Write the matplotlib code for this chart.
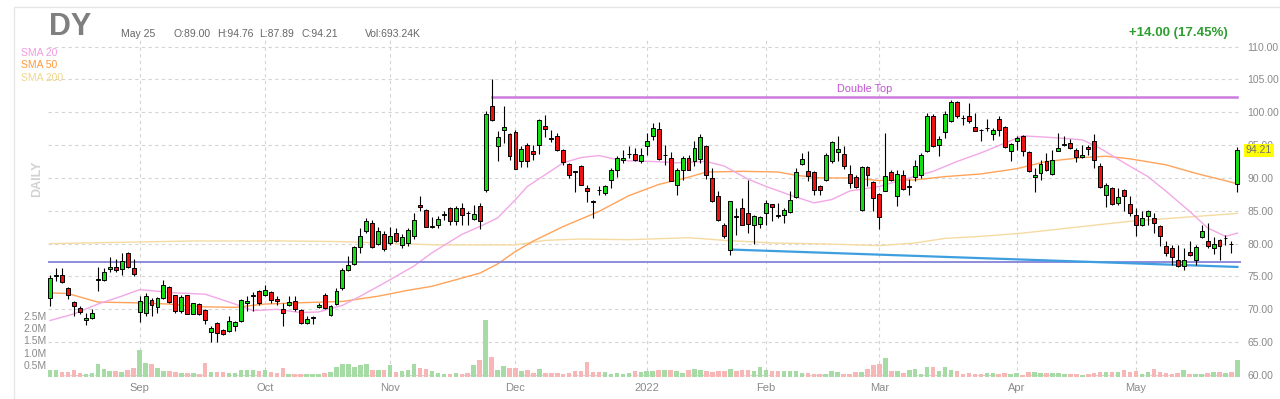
import numpy as np
import matplotlib.pyplot as plt
from matplotlib.patches import Rectangle

plt.rcParams["font.family"] = ["Liberation Sans", "DejaVu Sans"]

# daily candles, DY, Aug 11 2021 .. May 25 2022
opens = [71.65, 75.05, 75.25, 73.25, 71.1, 70.25, 68.4, 68.75, 74.5, 74.5,
         76.15, 76.5, 76.15, 78.6, 76.35, 69.65, 69.5, 71.4, 70.35, 71.65,
         73.35, 72.15, 69.75, 72.15, 69.35, 70.75, 69.85, 66.5, 67.9, 66.85,
         66.75, 67.5, 68.25, 70.9, 72.0, 72.85, 72.15, 72.6, 71.6, 70.0,
         70.7, 71.3, 69.9, 67.9, 68.7, 70.4, 72.25, 69.1, 70.8, 73.3,
         76.04, 76.95, 79.5, 81.87, 83.1, 80.0, 81.4, 80.1, 81.6, 79.84,
         80.1, 81.1, 85.83, 85.17, 82.6, 82.78, 84.4, 85.4, 83.4, 85.4,
         84.7, 83.8, 85.8, 88.2, 100.9, 94.8, 97.3, 96.67, 96.97, 92.5,
         95.05, 94.13, 95.05, 97.93, 96.0, 96.4, 94.3, 92.1, 91.0, 91.85,
         88.45, 86.48, 88.2, 87.7, 89.7, 91.24, 92.67, 93.6, 93.68, 92.5,
         94.8, 96.4, 97.48, 93.5, 93.0, 88.96, 91.25, 93.02, 92.5, 92.92,
         94.9, 89.97, 87.19, 82.88, 79.08, 84.25, 85.4, 84.66, 82.88, 83.0,
         84.66, 86.02, 84.3, 84.3, 84.8, 87.04, 92.16, 90.99, 90.84, 88.7,
         89.72, 92.5, 93.93, 93.68, 90.6, 90.13, 85.16, 91.7, 89.32, 87.59,
         88.05, 90.89, 87.19, 90.48, 88.65, 90.08, 90.48, 94.13, 99.36, 95.05,
         96.98, 98.6, 101.54, 99.15, 99.46, 97.73, 97.36, 97.55, 96.67, 98.95,
         97.73, 94.04, 95.66, 96.42, 93.93, 90.08, 90.74, 92.51, 90.6, 94.14,
         95.0, 95.3, 94.29, 93.17, 94.7, 95.66, 91.85, 87.45, 88.46, 86.17,
         88.2, 86.02, 84.4, 82.88, 84.15, 83.9, 82.73, 79.69, 79.33, 77.56,
         76.55, 78.67, 77.56, 81.01, 80.34, 79.33, 80.5, 80.82, 79.97, 89.0]
highs = [75.25, 76.25, 76.25, 73.4, 71.25, 70.5, 69.5, 70.0, 76.5, 76.25,
         78.0, 77.6, 78.5, 78.75, 77.6, 72.1, 72.5, 71.75, 71.9, 74.5,
         73.5, 72.25, 72.25, 72.15, 71.0, 70.9, 70.0, 67.5, 68.1, 67.0,
         69.0, 68.25, 71.5, 72.0, 72.65, 73.0, 73.67, 72.75, 72.0, 71.0,
         72.0, 72.0, 70.0, 68.95, 68.95, 71.0, 72.5, 70.7, 73.25, 76.3,
         78.1, 79.6, 82.4, 83.9, 83.65, 82.6, 81.87, 82.6, 82.4, 81.4,
         82.4, 84.66, 87.2, 85.3, 84.0, 84.15, 84.9, 85.5, 85.67, 86.17,
         84.9, 85.9, 86.17, 100.2, 105.1, 97.07, 100.9, 96.8, 97.3, 94.8,
         95.3, 94.95, 98.95, 99.5, 97.3, 96.8, 94.4, 92.26, 91.05, 92.0,
         88.96, 86.68, 88.7, 88.86, 91.5, 93.27, 94.3, 94.8, 94.55, 94.6,
         96.8, 98.35, 98.5, 95.05, 94.0, 91.5, 93.4, 93.5, 95.56, 96.7,
         95.05, 91.5, 88.05, 83.13, 86.53, 85.4, 86.94, 89.73, 84.3, 84.15,
         86.68, 86.07, 86.17, 85.4, 88.05, 91.5, 93.8, 94.04, 90.99, 88.96,
         93.78, 95.55, 96.31, 94.8, 92.0, 90.48, 91.75, 91.75, 89.47, 87.69,
         96.82, 91.25, 91.25, 91.25, 89.87, 92.77, 93.78, 99.86, 99.71, 96.31,
         100.12, 101.89, 101.64, 99.61, 101.39, 99.86, 97.48, 99.0, 97.58, 99.36,
         97.83, 95.3, 96.31, 96.57, 94.04, 91.5, 92.77, 93.78, 94.29, 96.82,
         96.42, 95.96, 94.54, 95.05, 95.05, 96.72, 92.26, 89.22, 88.56, 88.46,
         88.36, 87.29, 85.42, 84.9, 85.16, 84.66, 82.78, 80.45, 79.74, 79.74,
         79.33, 80.34, 79.74, 82.78, 83.13, 81.01, 80.75, 81.36, 80.34, 94.76]
lows = [70.5, 74.25, 74.0, 71.5, 69.0, 69.25, 67.6, 68.6, 72.75, 74.25,
        75.75, 75.75, 75.25, 76.25, 75.1, 68.0, 69.0, 69.0, 69.5, 71.5,
        71.0, 69.5, 69.5, 69.25, 69.25, 69.15, 67.75, 65.0, 65.1, 66.15,
        66.5, 66.75, 68.1, 69.7, 69.7, 70.7, 72.0, 71.0, 70.7, 67.4,
        70.5, 69.7, 67.8, 67.7, 67.7, 70.2, 70.0, 68.95, 70.6, 73.0,
        75.9, 76.8, 78.6, 81.6, 79.34, 79.84, 78.9, 79.84, 80.25, 79.34,
        79.6, 80.76, 84.9, 82.5, 82.4, 82.37, 83.64, 82.8, 82.8, 82.9,
        82.9, 83.64, 82.3, 87.85, 98.6, 92.5, 95.3, 92.77, 91.35, 91.6,
        91.6, 92.77, 93.63, 96.3, 95.45, 94.05, 91.9, 90.0, 87.85, 88.86,
        86.28, 83.9, 87.45, 87.34, 88.45, 90.08, 92.26, 93.0, 92.5, 92.26,
        93.5, 95.8, 92.77, 92.0, 89.47, 87.34, 89.73, 91.25, 91.75, 92.26,
        89.87, 86.28, 83.39, 80.85, 78.2, 81.36, 82.78, 81.62, 79.94, 82.37,
        82.88, 83.39, 83.9, 83.13, 84.66, 86.94, 92.0, 89.47, 87.34, 87.34,
        89.47, 92.26, 92.51, 91.4, 88.46, 88.46, 84.9, 88.71, 84.9, 82.22,
        87.95, 89.47, 85.77, 88.2, 87.34, 89.47, 89.97, 93.93, 94.64, 93.27,
        96.06, 98.5, 99.1, 98.09, 98.35, 97.07, 95.55, 97.18, 95.81, 96.31,
        94.54, 92.61, 94.29, 93.27, 90.89, 87.85, 89.72, 90.99, 90.48, 94.04,
        94.8, 94.44, 92.41, 93.02, 93.53, 91.5, 88.46, 85.52, 85.92, 85.92,
        85.01, 84.15, 81.21, 82.63, 82.78, 81.62, 79.58, 78.06, 76.7, 76.39,
        76.04, 78.06, 76.8, 80.85, 79.33, 78.42, 77.56, 79.84, 78.57, 87.89]
closes = [74.75, 75.15, 74.15, 72.25, 70.5, 69.6, 68.75, 69.5, 74.6, 75.75,
          76.5, 76.0, 77.35, 76.5, 75.4, 71.25, 72.0, 70.6, 71.65, 73.75,
          71.15, 69.75, 71.9, 69.35, 70.9, 69.35, 68.4, 67.1, 66.35, 66.25,
          68.25, 68.0, 71.35, 71.2, 72.2, 70.98, 72.9, 71.4, 71.2, 69.5,
          71.1, 70.0, 67.9, 68.5, 68.8, 70.7, 70.2, 70.5, 72.85, 76.05,
          76.8, 79.5, 81.1, 83.5, 79.44, 81.9, 79.2, 81.2, 80.45, 80.96,
          82.1, 83.65, 85.57, 82.6, 82.7, 83.74, 84.5, 83.4, 85.4, 84.3,
          84.65, 84.55, 83.4, 99.7, 98.85, 96.2, 97.8, 93.27, 91.35, 94.44,
          92.5, 93.63, 98.85, 97.48, 95.9, 94.2, 92.4, 90.4, 90.9, 88.96,
          87.95, 86.38, 88.1, 88.7, 91.14, 93.0, 93.1, 93.65, 92.77, 93.5,
          95.66, 97.58, 92.92, 93.55, 89.6, 91.25, 93.02, 91.25, 94.55, 96.3,
          90.48, 86.43, 83.64, 81.1, 86.43, 84.0, 82.88, 83.0, 84.15, 84.0,
          86.17, 85.57, 84.25, 85.17, 86.68, 90.9, 92.92, 90.23, 88.2, 88.2,
          93.43, 95.4, 94.44, 91.75, 89.22, 88.56, 91.6, 90.48, 86.93, 83.99,
          90.33, 89.72, 90.58, 88.36, 88.75, 91.85, 93.53, 99.36, 94.8, 95.96,
          99.71, 101.54, 99.36, 99.05, 98.6, 97.07, 97.3, 97.6, 97.33, 97.23,
          94.64, 95.15, 96.06, 94.04, 90.99, 90.48, 92.16, 91.14, 92.77, 94.54,
          95.1, 94.54, 93.12, 93.53, 94.4, 92.77, 88.61, 88.86, 86.07, 87.09,
          87.19, 84.66, 82.88, 83.9, 84.9, 83.14, 81.21, 78.57, 77.91, 76.55,
          77.56, 78.21, 79.43, 81.87, 79.69, 79.97, 79.58, 80.88, 79.91, 94.21]
# volume in millions of shares
volumes = [0.30, 0.30, 0.20, 0.20, 0.27, 0.18, 0.14, 0.16, 0.52, 0.34,
           0.23, 0.23, 0.20, 0.27, 0.37, 1.12, 0.59, 0.55, 0.37, 0.25,
           0.25, 0.20, 0.16, 0.16, 0.16, 0.14, 0.59, 0.20, 0.20, 0.20,
           0.18, 0.18, 0.27, 0.27, 0.27, 0.25, 0.27, 0.20, 0.18, 0.38,
           0.14, 0.11, 0.14, 0.14, 0.11, 0.11, 0.16, 0.20, 0.41, 0.55,
           0.52, 0.41, 0.48, 0.55, 0.27, 0.27, 0.27, 0.50, 0.20, 0.23,
           0.27, 0.52, 0.38, 0.31, 0.25, 0.15, 0.14, 0.11, 0.18, 0.14,
           0.18, 0.48, 0.68, 2.32, 0.82, 0.30, 0.45, 0.38, 0.38, 0.25,
           0.27, 0.18, 0.34, 0.18, 0.18, 0.18, 0.14, 0.18, 0.25, 0.25,
           0.61, 0.20, 0.20, 0.20, 0.14, 0.18, 0.11, 0.16, 0.23, 0.19,
           0.23, 0.23, 0.30, 0.27, 0.27, 0.23, 0.16, 0.30, 0.33, 0.30,
           0.23, 0.19, 0.23, 0.23, 0.33, 0.23, 0.30, 0.30, 0.23, 0.40,
           0.30, 0.23, 0.23, 0.23, 0.23, 0.23, 0.16, 0.16, 0.14, 0.14,
           0.14, 0.25, 0.20, 0.14, 0.11, 0.20, 0.20, 0.34, 0.48, 0.55,
           0.77, 0.25, 0.25, 0.18, 0.27, 0.31, 0.11, 0.41, 0.41, 0.25,
           0.41, 0.27, 0.25, 0.14, 0.18, 0.14, 0.14, 0.18, 0.18, 0.14,
           0.18, 0.14, 0.18, 0.08, 0.22, 0.22, 0.18, 0.18, 0.18, 0.15,
           0.11, 0.11, 0.11, 0.07, 0.14, 0.18, 0.22, 0.20, 0.20, 0.20,
           0.29, 0.22, 0.25, 0.11, 0.20, 0.34, 0.20, 0.18, 0.14, 0.18,
           0.27, 0.14, 0.14, 0.11, 0.18, 0.22, 0.20, 0.18, 0.22, 0.69]

# first trading day of each month (bar index)
month_pos = [15, 36, 57, 78, 100, 120, 139, 162, 182]
month_labels = ["Sep", "Oct", "Nov", "Dec", "2022", "Feb", "Mar", "Apr", "May"]

# moving averages as shown on the chart (bar index, value)
sma20_idx = [0, 4, 8, 12, 15, 21, 26, 31, 34, 38, 42, 45, 49, 52, 56, 61, 64, 69,
             72, 75, 78, 80, 83, 86, 89, 92, 95, 97, 101, 105, 110, 113, 117, 120,
             124, 128, 131, 134, 139, 144, 148, 152, 156, 160, 163, 167, 173, 176,
             180, 184, 187, 191, 194, 197, 199]
sma20_val = [68.3, 69.3, 70.8, 72.0, 73.0, 72.5, 72.3, 70.8, 69.8, 70.0, 69.5, 69.6,
             70.6, 72.0, 74.0, 76.6, 78.6, 81.4, 82.6, 83.9, 86.7, 88.7, 90.5, 92.3,
             93.1, 93.4, 92.8, 92.6, 92.5, 92.3, 92.5, 91.8, 89.8, 88.7, 87.4, 86.2,
             86.7, 88.0, 88.7, 90.0, 91.0, 92.5, 93.8, 95.3, 96.4, 96.2, 95.8, 94.5,
             92.3, 90.2, 88.0, 84.9, 82.4, 81.1, 81.6]
sma50_idx = [0, 3, 8, 14, 20, 25, 31, 36, 42, 49, 55, 60, 64, 72, 75, 78, 81, 86,
             92, 97, 102, 107, 110, 116, 122, 125, 129, 134, 139, 145, 150, 156,
             162, 167, 173, 177, 181, 187, 192, 196, 199]
sma50_val = [72.5, 72.4, 71.1, 71.0, 70.8, 70.4, 70.3, 70.8, 71.0, 71.2, 72.0, 72.9,
             73.5, 75.5, 76.9, 78.8, 80.4, 82.6, 84.9, 87.3, 89.0, 90.1, 90.9, 91.0,
             90.9, 90.4, 90.0, 90.0, 89.6, 89.7, 90.2, 90.6, 91.4, 92.5, 93.1, 93.3,
             92.9, 92.0, 90.7, 89.8, 89.1]
sma200_idx = [0, 24, 40, 49, 65, 78, 83, 89, 97, 107, 113, 121, 130, 139, 145, 150,
              156, 163, 173, 181, 190, 199]
sma200_val = [80.0, 80.4, 80.4, 80.3, 79.8, 79.8, 80.5, 80.7, 80.6, 80.9, 80.5, 80.1,
              79.95, 79.7, 80.1, 80.8, 81.1, 81.6, 82.6, 83.4, 84.0, 84.6]

# drawn trend lines
support_level = 77.2
double_top_level = 102.25
double_top_start = 74
trend_idx = [114, 199]
trend_val = [79.1, 76.45]

idx = np.arange(len(closes))
o = np.array(opens)
c = np.array(closes)
up = c >= o

fig = plt.figure(figsize=(12.8, 3.99), dpi=100)
fig.patches.append(Rectangle((14 / 1280, -0.1), 2, 1.1 - 7 / 399, transform=fig.transFigure,
                             fill=False, edgecolor="#e6e6e6", linewidth=1))

ax = fig.add_axes([48 / 1280, 22 / 399, 1193 / 1280, 337 / 399])
axv = ax.twinx()
ax.set_zorder(1)
axv.set_zorder(2)
axv.patch.set_visible(False)

# grid
ax.set_xticks(month_pos)
ax.set_xticklabels(month_labels)
ax.set_yticks(np.arange(60, 111, 5))
ax.set_yticklabels(["%.2f" % v for v in np.arange(60, 111, 5)])
ax.grid(True, linestyle=(0, (3, 3)), color="#d4d4d4", linewidth=0.8, zorder=0)
ax.set_axisbelow(True)

# moving averages
ax.plot(sma200_idx, sma200_val, color="#f5dba2", linewidth=1, zorder=2)
ax.plot(sma50_idx, sma50_val, color="#ffa35a", linewidth=1, zorder=2)
ax.plot(sma20_idx, sma20_val, color="#f2a8e6", linewidth=1, zorder=2)

# trend lines
ax.axhline(support_level, color="#8c8cdc", linewidth=1.4, zorder=2)
ax.plot([double_top_start, idx[-1]], [double_top_level, double_top_level],
        color="#cc7ade", linewidth=1.8, zorder=2)
ax.text((double_top_start + idx[-1]) / 2, double_top_level + 0.45, "Double Top",
        color="#c452d6", fontsize=7.8, ha="center", va="bottom")
ax.plot(trend_idx, trend_val, color="#3d9fe0", linewidth=1.6, zorder=2)

# candles
ax.vlines(idx, lows, highs, colors="black", linewidth=0.8, zorder=3)
ax.bar(idx, np.abs(c - o), bottom=np.minimum(o, c), width=0.66,
       color=np.where(up, "#14dd14", "#ee1111"), edgecolor="black", linewidth=0.7, zorder=4)

ax.set_xlim(-0.35, 199.6)
ax.set_ylim(59.7, 110.99)
ax.yaxis.tick_right()
ax.tick_params(axis="y", length=0, pad=4.5, labelsize=7.5, labelcolor="#8a8a8a")
ax.tick_params(axis="x", length=0, pad=4.5, labelsize=8, labelcolor="#8a8a8a")

# volume
axv.bar(idx, volumes, width=0.76, color=np.where(up, "#a6dba6", "#f7b7b7"), linewidth=0)
axv.set_ylim(0, 13.8)
axv.set_yticks([0.5, 1.0, 1.5, 2.0, 2.5])
axv.set_yticklabels(["0.5M", "1.0M", "1.5M", "2.0M", "2.5M"])
axv.yaxis.tick_left()
axv.tick_params(axis="y", length=0, pad=1, labelsize=7.5, labelcolor="#8a8a8a")

for a in (ax, axv):
    for s in a.spines.values():
        s.set_visible(False)

# last price tag
ax.annotate("%.2f" % closes[-1], xy=(1, closes[-1]), xycoords=("axes fraction", "data"),
            xytext=(3.5, 0), textcoords="offset points", ha="left", va="center",
            fontsize=7.5, color="#707070", zorder=10, annotation_clip=False,
            bbox=dict(boxstyle="square,pad=0.15", fc="#ffff00", ec="none"))


def px(x, y):
    return x / 1280, 1 - y / 399


# header
fig.text(*px(49, 27), "DY", fontsize=22, fontweight="bold", color="#7f7f7f", va="center")
fig.text(*px(121, 34), "May 25", fontsize=7.5, color="#666666", va="center")
fig.text(*px(174, 34), "O:89.00", fontsize=7.5, color="#666666", va="center")
fig.text(*px(217, 34), "H:94.76", fontsize=7.5, color="#666666", va="center")
fig.text(*px(259, 34), "L:87.89", fontsize=7.5, color="#666666", va="center")
fig.text(*px(301, 34), "C:94.21", fontsize=7.5, color="#666666", va="center")
fig.text(*px(365, 34), "Vol:693.24K", fontsize=7.5, color="#666666", va="center")
fig.text(*px(1228, 33), "+14.00 (17.45%)", fontsize=9.5, fontweight="bold",
         color="#2e9e2e", ha="right", va="center")

# legend
fig.text(*px(21, 53), "SMA 20", fontsize=7.5, color="#f09be0", va="center")
fig.text(*px(21, 65.5), "SMA 50", fontsize=7.5, color="#ff9a3c", va="center")
fig.text(*px(21, 78), "SMA 200", fontsize=7.5, color="#efd68e", va="center")
fig.text(*px(37, 179), "DAILY", fontsize=9, fontweight="bold", color="#d2d2d2",
         rotation=90, ha="center", va="center")

fig.savefig("out.png", dpi=100)
